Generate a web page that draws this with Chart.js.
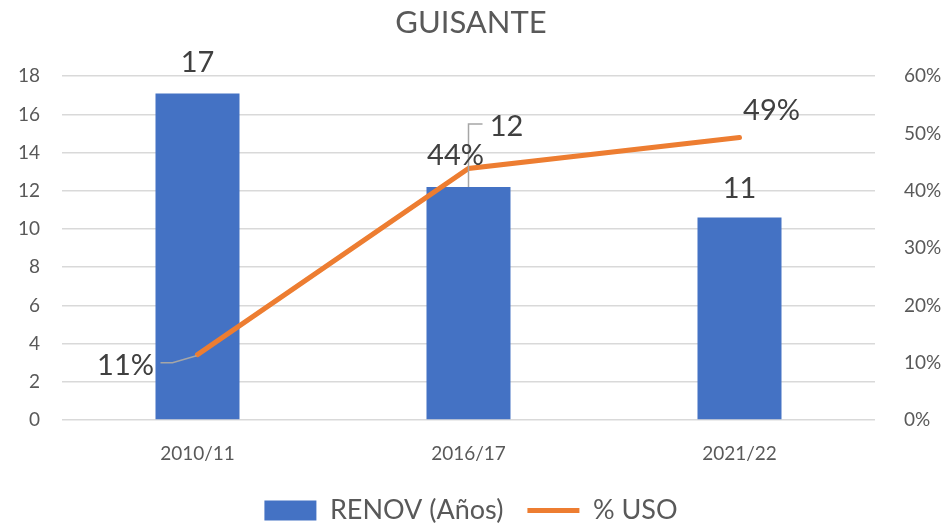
<!DOCTYPE html>
<html><head><meta charset="utf-8">
<script src="https://cdn.jsdelivr.net/npm/chart.js@4/dist/chart.umd.min.js"></script>
<style>html,body{margin:0;padding:0;background:#fff}#w{width:942px;height:525px;position:relative}</style>
</head><body><div id="w"><canvas id="c"></canvas></div>
<script>
const categories = ['2010/11', '2016/17', '2021/22'];
const renovValues = [17.1, 12.2, 10.6];
const usoValues = [0.114, 0.439, 0.493];
const renovLabels = ['17', '12', '11'];
const usoLabels = ['11%', '44%', '49%'];
const leftMax = 18, leftStep = 2;
const rightMax = 0.6, rightStep = 0.1;

const FONT = 'Lato, "Open Sans", sans-serif';

const labelPlugin = {
  id: 'dlabels',
  afterDatasetsDraw(chart) {
    const ctx = chart.ctx;
    ctx.save();
    ctx.font = '29px ' + FONT;
    ctx.fillStyle = '#404040';
    ctx.textAlign = 'center';
    ctx.textBaseline = 'middle';
    ctx.strokeStyle = '#a6a6a6';
    ctx.lineWidth = 1.5;
    const bars = chart.getDatasetMeta(0).data;
    const pts = chart.getDatasetMeta(1).data;
    const barOff = [[0, -31], [38, -60], [0, -29]];
    bars.forEach((el, i) => {
      const [dx, dy] = barOff[i];
      ctx.fillText(renovLabels[i], el.x + dx, el.y + dy);
    });
    {
      const el = bars[1];
      ctx.beginPath();
      ctx.moveTo(el.x, el.y);
      ctx.lineTo(el.x, el.y - 63);
      ctx.lineTo(el.x + 14, el.y - 63);
      ctx.stroke();
    }
    const ptOff = [[-72, 11], [-13, -13], [32, -27]];
    pts.forEach((el, i) => {
      const [dx, dy] = ptOff[i];
      ctx.fillText(usoLabels[i], el.x + dx, el.y + dy);
    });
    {
      const el = pts[0];
      ctx.beginPath();
      ctx.moveTo(el.x - 1, el.y + 1);
      ctx.lineTo(el.x - 25, el.y + 8);
      ctx.lineTo(el.x - 37, el.y + 8);
      ctx.stroke();
    }
    ctx.restore();
  }
};

new Chart(document.getElementById('c'), {
  data: {
    labels: categories,
    datasets: [
      {
        type: 'bar', label: 'RENOV (Años)', data: renovValues,
        backgroundColor: '#4472C4', yAxisID: 'y',
        barPercentage: 0.62, categoryPercentage: 0.5, order: 2
      },
      {
        type: 'line', label: '% USO', data: usoValues,
        borderColor: '#ED7D31', backgroundColor: '#ED7D31',
        borderWidth: 5, pointRadius: 0, yAxisID: 'y1', order: 1,
        borderCapStyle: 'round', tension: 0
      }
    ]
  },
  options: {
    responsive: true, maintainAspectRatio: false, animation: false,
    layout: { padding: { top: 4, left: 0, right: 0, bottom: 0 } },
    plugins: {
      title: {
        display: true, text: 'GUISANTE', color: '#595959',
        font: { family: FONT, size: 31, weight: 'normal' },
        padding: { top: 0, bottom: 35 }
      },
      legend: {
        position: 'bottom', maxHeight: 52,
        labels: {
          color: '#595959', font: { family: FONT, size: 27 },
          usePointStyle: true, pointStyleWidth: 52, boxHeight: 20, padding: 24,
          generateLabels(chart) {
            return [
              { text: 'RENOV (Años)', fillStyle: '#4472C4', strokeStyle: '#4472C4', lineWidth: 0, pointStyle: 'rect', datasetIndex: 0, fontColor: '#595959' },
              { text: '% USO', fillStyle: '#ED7D31', strokeStyle: '#ED7D31', lineWidth: 5, pointStyle: 'line', datasetIndex: 1, fontColor: '#595959' }
            ];
          }
        }
      },
      tooltip: { enabled: false }
    },
    scales: {
      x: {
        grid: { display: false }, border: { display: false },
        ticks: { color: '#595959', font: { family: FONT, size: 19 }, padding: 14 },
        afterFit(s) { s.height = 53; }
      },
      y: {
        position: 'left', min: 0, max: leftMax,
        ticks: { stepSize: leftStep, color: '#595959', font: { family: FONT, size: 19 }, padding: 22 },
        grid: { color: '#d9d9d9', lineWidth: 1.5, drawTicks: false },
        border: { display: false },
        afterFit(s) { s.width = 62; }
      },
      y1: {
        position: 'right', min: 0, max: rightMax,
        ticks: { stepSize: rightStep, color: '#595959', font: { family: FONT, size: 19 }, padding: 21,
          callback: v => Math.round(v * 100) + '%' },
        grid: { display: false }, border: { display: false },
        afterFit(s) { s.width = 67; }
      }
    }
  },
  plugins: [labelPlugin]
});
</script>
</body></html>
